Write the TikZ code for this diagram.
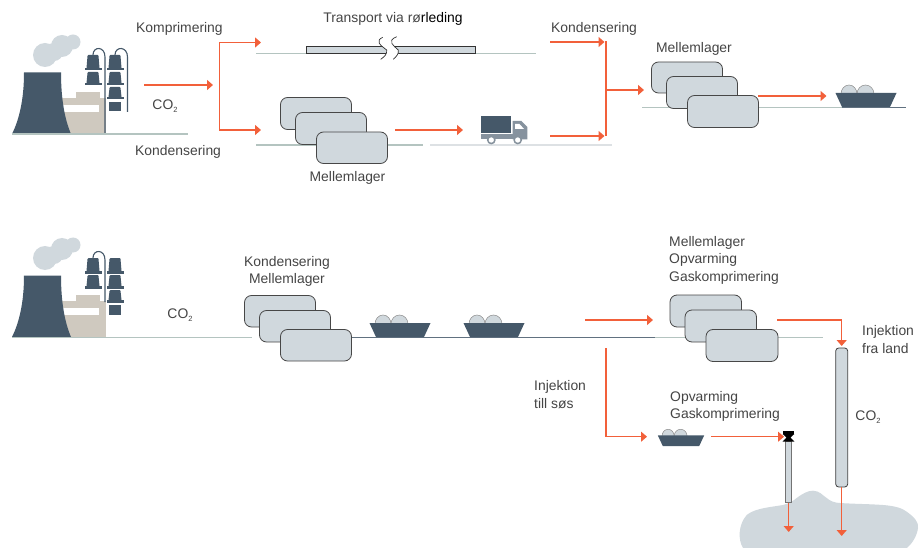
\documentclass[tikz,border=0pt]{standalone}
\usepackage{fontspec}
\setmainfont{Liberation Sans}
\usetikzlibrary{arrows.meta}
\definecolor{slate}{HTML}{455869}
\definecolor{pale}{HTML}{D0D8DD}
\definecolor{beige}{HTML}{CFC9BF}
\definecolor{flow}{HTML}{F2603A}
\definecolor{ground}{HTML}{B4C4C0}
\definecolor{lightg}{HTML}{DDE1E4}
\definecolor{txt}{HTML}{454545}
\tikzset{
 x=1pt,y=-1pt,
 flowline/.style={draw=flow,line width=1.2pt,-{Triangle[length=6pt,width=10pt]}},
 flowplain/.style={draw=flow,line width=1.2pt},
 gnd/.style={draw=ground,line width=1.1pt},
 gnddark/.style={draw=slate!85,line width=1.1pt},
 tank/.style={draw=black!72,fill=pale,line width=.8pt,rounded corners=7pt},
 lbl/.style={font=\fontsize{13.9}{17.5}\selectfont,text=txt,inner sep=0pt,align=left},
 lblc/.style={font=\fontsize{13.9}{17.5}\selectfont,text=txt,inner sep=0pt,align=center}
}
\newcommand{\COtwo}{CO\raisebox{-3pt}{\fontsize{7.5}{7.5}\selectfont 2}}
\newcommand{\plant}[2]{%
 \begin{scope}[shift={(#1,#2)}]
  \fill[pale] (45,55) circle (12);
  \fill[pale] (62,46) circle (11);
  \fill[pale] (73,42) circle (7.5);
  \fill[pale] (54,52) circle (9);
  \fill[beige] (62,98) rectangle (106,134);
  \fill[beige] (76,92) rectangle (100,99);
  \fill[white] (63,105) rectangle (99,112);
  \fill[slate] (24,72.5) -- (61,72.5) .. controls (61,100) and (65,120) .. (71,134) -- (12,134) .. controls (19,120) and (24,100) .. (24,72.5) -- cycle;
 \end{scope}}
\newcommand{\col}[3]{%
  \fill[slate] (#1-5.5,#2+1) -- (#1-4.5,#2) -- (#1+4.5,#2) -- (#1+5.5,#2+1) -- (#1+6.5,#2+#3) -- (#1-6.5,#2+#3) -- cycle;
  \fill[slate] (#1-8.5,#2+#3) rectangle (#1+8.5,#2+#3+2.5);}
\newcommand{\bowl}[3]{%
 \begin{scope}[shift={(#1,#2)},scale=#3]
  \filldraw[draw=black!45,fill=pale,line width=.5pt] (-25,-13) arc (180:360:8 and 9);
  \filldraw[draw=black!45,fill=pale,line width=.5pt] (-9,-13) arc (180:360:8.5 and 9);
  \fill[slate] (-30.5,-14) -- (30.5,-14) -- (24,0) -- (-24,0) -- cycle;
 \end{scope}}
\begin{document}
\begin{tikzpicture}
\useasboundingbox (0,0) rectangle (921,548);
\fill[white] (0,0) rectangle (921,548);

%% top plant
\plant{0}{0}
\draw[gnd] (12,134) -- (188,134);
\col{93}{55}{13}\col{93}{72}{11}
\col{115}{55}{13}\col{115}{72}{11}\col{115}{87}{10}
\fill[slate] (109,102) rectangle (121,111.5);
\draw[slate,line width=1.1pt] (93,55) .. controls (93,46) and (105,46) .. (105,57) -- (105,133);
\draw[slate,line width=1.1pt] (115,55) .. controls (115,46) and (127.5,46) .. (127.5,57) -- (127.5,112);
\node[lbl,anchor=west] (t1) at (136,28.5) {Komprimering};
\node[lbl,anchor=west] (t2) at (135,151.5) {Kondensering};
\node[lblc] (co1) at (165,106) {\COtwo};

\coordinate (a0) at (144,85);\coordinate (a1) at (213,85);
\draw[flowline] (a0) -- (a1);
\coordinate (b0) at (261,42.5);\coordinate (b1) at (261,130);
\draw[flowline] (219.5,90) -- (219.5,42.5) -- (b0);
\draw[flowline] (219.5,90) -- (219.5,130) -- (b1);

%% pipeline
\draw[gnd] (256,53.5) -- (536,53.5);
\node[lblc] (tv) at (393,18.5) {Transport via rø{\color{black}rleding}};
\filldraw[draw=black!80,fill=pale,line width=.8pt] (306.5,46) rectangle (475,53);
\fill[white] (382.7,37.3) .. controls (375,41) and (380,45) .. (386.7,50) .. controls (387,54) and (385,56) .. (383,57) -- (396,57) .. controls (398,55) and (399,52) .. (398.3,50) .. controls (394,46) and (386,41) .. (396.7,36.7) -- cycle;
\draw[black!80,line width=.7pt] (382.7,37.3) .. controls (375,41) and (380,45) .. (386.7,50) .. controls (387.5,54) and (384,57) .. (380.7,59.3);
\draw[black!80,line width=.7pt] (396.7,36.7) .. controls (386,41) and (394,46) .. (398.3,50) .. controls (399,54) and (396,57) .. (393.3,59.3);

%% lower branch
\draw[gnd] (256,145) -- (423,145);
\draw[draw=lightg,line width=1.2pt] (430,145) -- (612,145);
\draw[tank] (280.5,97.5) rectangle (351.5,129.5);
\draw[tank] (295.5,112.5) rectangle (366.5,144.5);
\draw[tank] (316.5,132) rectangle (387.5,163.5);
\node[lblc] (m1) at (347.5,177.5) {Mellemlager};
\draw[flowline] (395,130) -- (463,130);
% truck
\fill[slate] (481,116) rectangle (510.5,132.7);
\fill[slate!65] (481,134) rectangle (527,139.5);
\fill[slate!65] (512.7,121) -- (521.5,121) -- (527.3,127) -- (527.3,139.5) -- (512.7,139.5) -- cycle;
\fill[white] (515,124) -- (519.5,124) -- (524,129) -- (515,129) -- cycle;
\filldraw[draw=slate!65,fill=white,line width=1.5pt] (491.3,140) circle (3.6);
\filldraw[draw=slate!65,fill=white,line width=1.5pt] (517.7,140) circle (3.6);

%% merge
\node[lbl,anchor=west] (t3) at (551,28.5) {Kondensering};
\draw[flowline] (550,42) -- (604.5,42);
\draw[flowline] (550,136) -- (604.5,136);
\draw[flowplain] (606,41.5) -- (606,136.5);
\draw[flowline] (606,90) -- (644,90);

%% right top
\node[lblc] (m2) at (694,48.5) {Mellemlager};
\draw[gnd] (642,107.3) -- (842,107.3);
\draw[gnddark] (842,107.3) -- (905.5,107.3);
\draw[tank] (651.5,62) rectangle (722.5,93);
\draw[tank] (666.5,76.5) rectangle (737.5,108.5);
\draw[tank] (687.5,95.5) rectangle (758.5,127.5);
\draw[flowline] (758,96) -- (826.5,96);
\bowl{866}{107}{1}

%% bottom plant
\plant{0}{203}
\draw[gnd] (12,337.3) -- (252,337.3);
\draw[gnddark] (350,337.3) -- (655,337.3);
\draw[gnd] (655,337.3) -- (822.5,337.3);
\col{93}{258}{13}\col{93}{275}{11}
\col{115}{258}{13}\col{115}{275}{11}\col{115}{290}{10}
\fill[slate] (109,305) rectangle (121,315);
\draw[slate,line width=1.1pt] (93,258) .. controls (93,249) and (105,249) .. (105,260) -- (105,302);
\node[lblc] (co2) at (180,315.5) {\COtwo};
\node[lblc] (km) at (287,271.5) {Kondensering\\Mellemlager};
\draw[tank] (244.5,295.5) rectangle (315.5,327);
\draw[tank] (259.5,310.5) rectangle (330.5,342);
\draw[tank] (280.5,329.5) rectangle (351.5,361);
\bowl{400}{337}{1}
\bowl{494}{337}{1}

\node[lbl,anchor=west] (mog) at (669,260) {Mellemlager\\Opvarming\\Gaskomprimering};
\draw[flowline] (585,320) -- (653,320);
\draw[tank] (670,295) rectangle (741.5,327);
\draw[tank] (685,310) rectangle (756.5,342);
\draw[tank] (706,329.5) rectangle (778,361.5);
\draw[flowline] (777,320) -- (841.7,320) -- (841.7,346);

\node[lbl,anchor=west] (inl) at (862,339.5) {Injektion\\fra land};
\node[lbl,anchor=west] (ins) at (534,394.5) {Injektion\\till søs};
\draw[flowline] (606,348) -- (606,436.7) -- (647,436.7);
\node[lbl,anchor=west] (og) at (670,406.5) {Opvarming\\Gaskomprimering};
\bowl{681}{446}{.76}
\draw[flowline] (711,436.7) -- (784,436.7);

% reservoir
\fill[pale] (743,548) .. controls (738,540) and (738,525) .. (746.7,515) .. controls (755,508) and (772,507) .. (783,505) .. controls (790,503) and (793,501) .. (796.7,498) .. controls (802,494) and (808,490.5) .. (813,490.7) .. controls (820,491) and (822,495) .. (826.7,498) .. controls (830,501) and (835,503) .. (840,503) .. controls (855,504) and (870,504) .. (883,505) .. controls (895,506) and (902,508) .. (906.7,511.7) .. controls (914,517) and (919,522) .. (918,528) .. controls (917,536) and (912,544) .. (906.7,548) -- cycle;

% small well
\filldraw[draw=black!55,fill=pale,line width=.9pt] (785.8,441) rectangle (791.6,502.7);
\fill[black] (782.7,431) rectangle (794.3,434);
\fill[black] (782.7,434) -- (794.3,434) -- (790.5,437.5) -- (794.3,441.5) -- (782.7,441.5) -- (786.5,437.5) -- cycle;
\draw[flowline] (788.7,502.7) -- (788.7,532);

% big well
\draw[draw=black!75,fill=pale,line width=.8pt,rounded corners=3pt] (835.7,348) rectangle (847.7,487);
\draw[flowline] (841.7,487) -- (841.7,536);
\node[lblc] (co3) at (868,417) {\COtwo};
\end{tikzpicture}
\end{document}
